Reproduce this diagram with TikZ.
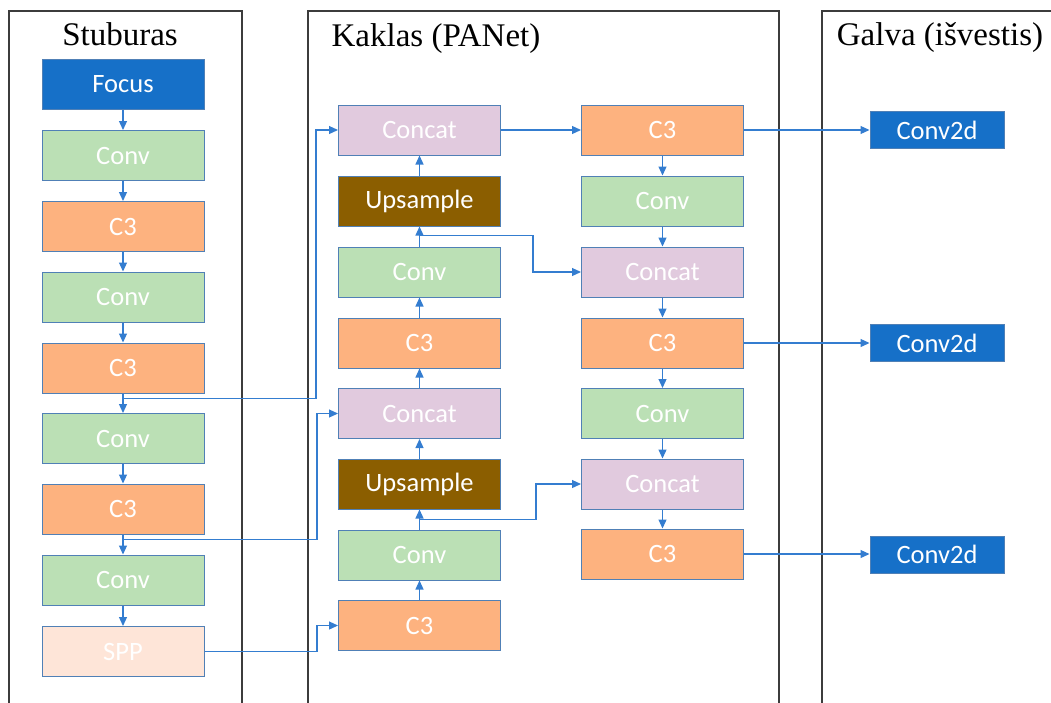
\documentclass[tikz,border=0pt]{standalone}
\usepackage{fontspec}
\setmainfont{Liberation Serif}
\newfontfamily\boxfont{Carlito}
\usetikzlibrary{arrows.meta,calc}

\definecolor{blueblk}{RGB}{22,112,200}
\definecolor{greenblk}{RGB}{187,224,181}
\definecolor{orangeblk}{RGB}{253,178,127}
\definecolor{pinkblk}{RGB}{225,202,222}
\definecolor{brownblk}{RGB}{139,94,0}
\definecolor{peachblk}{RGB}{254,229,216}
\definecolor{blkedge}{RGB}{80,128,182}
\definecolor{linkcol}{RGB}{52,125,208}
\definecolor{panelcol}{RGB}{60,60,60}

\tikzset{
  blk/.style={draw=blkedge, line width=1pt, minimum width=162pt, minimum height=50pt,
    inner sep=0pt, text=white, font=\boxfont\fontsize{26.5}{30}\selectfont},
  convb/.style={blk, fill=greenblk},
  c3b/.style={blk, fill=orangeblk},
  catb/.style={blk, fill=pinkblk},
  upb/.style={blk, fill=brownblk},
  focb/.style={blk, fill=blueblk},
  sppb/.style={blk, fill=peachblk},
  outb/.style={blk, fill=blueblk, minimum width=134pt, minimum height=37pt},
  link/.style={draw=linkcol, line width=1.2pt, -{Triangle[length=9pt,width=8pt]}},
  panel/.style={draw=panelcol, line width=1.4pt},
  title/.style={anchor=base, inner sep=0pt, font=\fontsize{33}{38}\selectfont}
}

\begin{document}
\begin{tikzpicture}[x=1pt,y=-1pt]
\useasboundingbox (0,0) rectangle (1051,702);

% panels (open at the bottom)
\draw[panel] (9,705) -- (9,11) -- (242,11) -- (242,705);
\draw[panel] (308,705) -- (308,11) -- (779,11) -- (779,705);
\draw[panel] (822,705) -- (822,11) -- (1055,11);

\node[title] (tb) at (120,45) {Stuburas};
\node[title] (tn) at (436,46) {Kaklas (PANet)};
\node[title] (th) at (940,45) {Galva (išvestis)};

% backbone
\node[focb] (b1) at (123,84) {Focus};
\node[convb] (b2) at (123,155.5) {Conv};
\node[c3b] (b3) at (123,226.5) {C3};
\node[convb] (b4) at (123,297) {Conv};
\node[c3b] (b5) at (123,368) {C3};
\node[convb] (b6) at (123,438.5) {Conv};
\node[c3b] (b7) at (123,509) {C3};
\node[convb] (b8) at (123,580) {Conv};
\node[sppb] (b9) at (123,651.5) {SPP};

% neck, upward path
\node[catb] (u1) at (419.5,130) {Concat};
\node[upb] (u2) at (419.5,201) {Upsample};
\node[convb] (u3) at (419.5,272) {Conv};
\node[c3b] (u4) at (419.5,343) {C3};
\node[catb] (u5) at (419.5,413.5) {Concat};
\node[upb] (u6) at (419.5,484) {Upsample};
\node[convb] (u7) at (419.5,555) {Conv};
\node[c3b] (u8) at (419.5,625.5) {C3};

% neck, downward path
\node[c3b] (d1) at (662.5,130) {C3};
\node[convb] (d2) at (662.5,201) {Conv};
\node[catb] (d3) at (662.5,272) {Concat};
\node[c3b] (d4) at (662.5,343) {C3};
\node[convb] (d5) at (662.5,413.5) {Conv};
\node[catb] (d6) at (662.5,484) {Concat};
\node[c3b] (d7) at (662.5,554) {C3};

% heads
\node[outb] (h1) at (937,130) {Conv2d};
\node[outb] (h2) at (937,343) {Conv2d};
\node[outb] (h3) at (937,554.5) {Conv2d};

% backbone flow
\foreach \a/\b in {b1/b2,b2/b3,b3/b4,b4/b5,b5/b6,b6/b7,b7/b8,b8/b9}
  \draw[link] (\a) -- (\b);

% upward flow
\foreach \a/\b in {u8/u7,u7/u6,u6/u5,u5/u4,u4/u3,u3/u2,u2/u1}
  \draw[link] (\a) -- (\b);

% downward flow
\foreach \a/\b in {d1/d2,d2/d3,d3/d4,d4/d5,d5/d6,d6/d7}
  \draw[link] (\a) -- (\b);

% routing columns for the bent links
\coordinate (xa) at (316,0);
\coordinate (xb) at (317,0);
\coordinate (xc) at (533,0);
\coordinate (xd) at (536,0);

% taps from the backbone
\coordinate (j1) at ($(b5.south)!0.25!(b6.north)$);
\coordinate (j2) at ($(b7.south)!0.25!(b8.north)$);
\draw[link] (j1) -- (j1 -| xa) |- (u1.west);
\draw[link] (j2) -- (j2 -| xb) |- (u5.west);
\draw[link] (b9.east) -- (b9.east -| xb) |- (u8.west);

% lateral links across the neck
\coordinate (k1) at ($(u3.north)!0.55!(u2.south)$);
\coordinate (k2) at ($(u7.north)!0.5!(u6.south)$);
\draw[link] (k1) -- (k1 -| xc) |- (d3.west);
\draw[link] (k2) -- (k2 -| xd) |- (d6.west);
\draw[link] (u1) -- (d1);

% outputs
\draw[link] (d1.east) -- (d1.east -| h1.west);
\draw[link] (d4.east) -- (d4.east -| h2.west);
\draw[link] (d7.east) -- (d7.east -| h3.west);
\end{tikzpicture}
\end{document}
